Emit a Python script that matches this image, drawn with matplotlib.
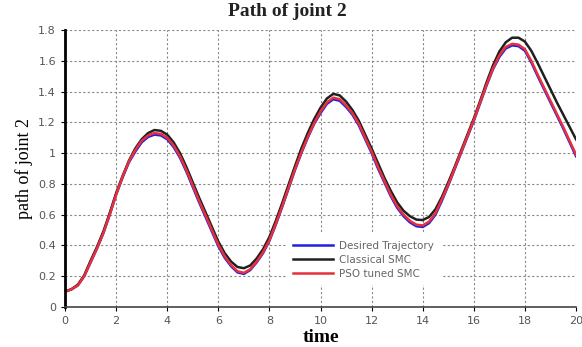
import matplotlib.pyplot as plt
from matplotlib.ticker import FormatStrFormatter

# time samples (s) and joint-2 paths
time = [i * 0.25 for i in range(81)]
desired = [0.10, 0.115, 0.14, 0.20, 0.29, 0.38, 0.48, 0.60, 0.73, 0.84, 0.94, 1.01, 1.07,
           1.105, 1.12, 1.115, 1.09, 1.04, 0.97, 0.88, 0.78, 0.68, 0.585, 0.49, 0.395, 0.32,
           0.265, 0.225, 0.215, 0.24, 0.29, 0.35, 0.43, 0.535, 0.65, 0.77, 0.89, 1.00, 1.10,
           1.19, 1.26, 1.32, 1.35, 1.34, 1.30, 1.25, 1.18, 1.09, 1.00, 0.90, 0.81, 0.72,
           0.645, 0.59, 0.55, 0.525, 0.52, 0.545, 0.60, 0.69, 0.79, 0.895, 1.00, 1.105, 1.21,
           1.325, 1.44, 1.545, 1.625, 1.68, 1.70, 1.695, 1.665, 1.59, 1.50, 1.415, 1.33,
           1.245, 1.16, 1.07, 0.98]
classical = [0.10, 0.115, 0.145, 0.205, 0.30, 0.39, 0.49, 0.61, 0.74, 0.85, 0.95, 1.03, 1.09,
             1.13, 1.15, 1.145, 1.12, 1.07, 1.00, 0.91, 0.81, 0.71, 0.615, 0.52, 0.425, 0.35,
             0.295, 0.26, 0.252, 0.27, 0.315, 0.375, 0.455, 0.56, 0.675, 0.795, 0.915, 1.03,
             1.13, 1.22, 1.295, 1.355, 1.385, 1.375, 1.335, 1.28, 1.21, 1.12, 1.03, 0.935,
             0.84, 0.755, 0.68, 0.625, 0.59, 0.568, 0.565, 0.585, 0.635, 0.715, 0.81, 0.91,
             1.015, 1.12, 1.225, 1.34, 1.46, 1.57, 1.66, 1.72, 1.75, 1.75, 1.725, 1.665, 1.585,
             1.50, 1.415, 1.33, 1.25, 1.17, 1.09]
pso = [0.10, 0.115, 0.14, 0.20, 0.29, 0.38, 0.48, 0.60, 0.73, 0.845, 0.945, 1.02, 1.08,
       1.115, 1.13, 1.125, 1.10, 1.05, 0.98, 0.89, 0.79, 0.69, 0.595, 0.50, 0.405, 0.33,
       0.272, 0.232, 0.222, 0.245, 0.295, 0.355, 0.435, 0.54, 0.655, 0.775, 0.895, 1.005,
       1.105, 1.195, 1.27, 1.33, 1.36, 1.35, 1.31, 1.26, 1.19, 1.10, 1.01, 0.91, 0.82, 0.73,
       0.655, 0.60, 0.56, 0.535, 0.53, 0.555, 0.61, 0.70, 0.795, 0.90, 1.005, 1.11, 1.215,
       1.33, 1.445, 1.55, 1.635, 1.69, 1.71, 1.705, 1.675, 1.60, 1.51, 1.425, 1.34, 1.255,
       1.17, 1.08, 0.99]

fig = plt.figure(figsize=(5.82, 3.47), dpi=100)
ax = fig.add_axes([0.1117, 0.1153, 0.8780, 0.7982])

ax.plot(time, desired, color='#2020e0', lw=1.8, label='Desired Trajectory')
ax.plot(time, classical, color='#202020', lw=1.8, label='Classical SMC')
ax.plot(time, pso, color='#e8303c', lw=1.8, label='PSO tuned SMC')

ax.set_xlim(0, 20)
ax.set_ylim(0, 1.8)
ax.set_xticks(range(0, 21, 2))
ax.set_yticks([i * 0.2 for i in range(10)])
ax.yaxis.set_major_formatter(FormatStrFormatter('%g'))
ax.tick_params(labelsize=8, labelcolor='#555555', length=3, width=0.8)
ax.grid(True, color='#888888', linestyle=(0, (2, 2)), linewidth=0.8)

for s in ['top', 'right']:
    ax.spines[s].set_visible(False)
ax.spines['left'].set_linewidth(2)
ax.spines['bottom'].set_linewidth(1.2)
ax.spines['bottom'].set_color('#444444')

fig.text(287 / 582, 1 - 12 / 347, 'Path of joint 2', fontsize=14, fontweight='bold',
         family='Liberation Serif', color='#222222', ha='center', va='center')
ax.set_ylabel('path of joint 2', fontsize=13, family='Liberation Serif', labelpad=4)
ax.set_xlabel('time', fontsize=14, fontweight='bold', family='Liberation Serif', labelpad=2)

leg = ax.legend(loc='center', bbox_to_anchor=(0.584, 0.17), fontsize=7.5, frameon=True,
                handlelength=3.9, labelspacing=0.4, borderpad=0.6, handletextpad=0.6)
leg.get_frame().set_edgecolor('none')
leg.get_frame().set_facecolor('white')
leg.get_frame().set_alpha(1)
for t in leg.get_texts():
    t.set_color('#666666')

plt.savefig('out.png', dpi=100)
